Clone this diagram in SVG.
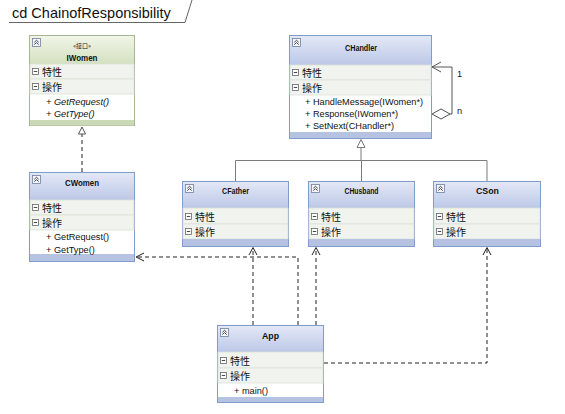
<svg xmlns="http://www.w3.org/2000/svg" width="565" height="414" viewBox="0 0 565 414">
<defs>
<linearGradient id="gb" x1="0" y1="0" x2="0" y2="1">
<stop offset="0" stop-color="#e3e8f6"/><stop offset="1" stop-color="#bcc8e7"/>
</linearGradient>
<linearGradient id="gg" x1="0" y1="0" x2="0" y2="1">
<stop offset="0" stop-color="#f1f5e8"/><stop offset="1" stop-color="#d3e0bf"/>
</linearGradient>
<g id="col">
<rect x="0.5" y="0.5" width="8" height="8" fill="#f4f6fb" stroke="#6f7f9f" stroke-width="0.8"/>
<path d="M2.3,4.3 L4.5,2.3 L6.7,4.3 M2.3,6.6 L4.5,4.6 L6.7,6.6" fill="none" stroke="#333" stroke-width="0.9"/>
</g>
<g id="mi">
<rect x="0.5" y="0.5" width="6" height="6" fill="#fff" stroke="#666" stroke-width="0.8"/>
<path d="M1.8,3.5 H5.2" stroke="#333" stroke-width="0.9"/>
</g>
</defs>
<style>
.bb{fill:#fff;stroke:#7f9ccb;stroke-width:1}
.bg{fill:#fff;stroke:#a5b792;stroke-width:1}
.row{fill:#f1f4ee;stroke:#dde2d6;stroke-width:0.8}
.sb{fill:#b5c2e2}
.sg{fill:#cbd9b6}
.t{font-family:"Liberation Sans",Arial,sans-serif;font-size:9.2px;fill:#111}
.ti{font-family:"Liberation Sans",Arial,sans-serif;font-size:9.5px;font-weight:bold;fill:#111}
.c{font-family:"Noto Sans CJK SC","Noto Sans",sans-serif;font-size:10px;fill:#111}
.dash{stroke:#222;stroke-width:1;stroke-dasharray:4 3;fill:none}
.gen{stroke:#7a7a7a;stroke-width:1;fill:none}
.arr{stroke:#222;stroke-width:1;fill:none}
</style>
<rect width="565" height="414" fill="#fff"/>

<g id="frame">
<text x="12" y="18" font-family="Liberation Sans,Arial,sans-serif" font-size="14.5" fill="#111">cd ChainofResponsibility</text>
<path d="M9,22.5 H185 L192,0" fill="none" stroke="#666" stroke-width="1"/>
</g>

<g id="connectors">
<path class="gen" d="M361,148 V160.5 M235.5,181 V160.5 H487 V181 M361.5,160.5 V181"/>
<path d="M361,139.5 L365,147.5 L357,147.5 Z" fill="#fff" stroke="#7a7a7a"/>
<path class="dash" d="M82,172 V134"/>
<path d="M82,127 L85.5,134 L78.5,134 Z" fill="#fff" stroke="#555"/>
<path class="gen" style="stroke:#555" d="M432,67 H452 V114 H450"/>
<path d="M432,114 L441,109 L450,114 L441,119 Z" fill="#fff" stroke="#555"/>
<path class="arr" style="stroke:#555" d="M441,62 L432,67 L441,72"/>
<text class="t" x="457" y="77">1</text>
<text class="t" x="457" y="114">n</text>
<path class="dash" d="M298,325 V257 H137"/>
<path class="arr" d="M144,253 L136,257 L144,261"/>
<path class="dash" d="M253,325 V248"/>
<path class="arr" d="M249,255 L253,247.5 L257,255"/>
<path class="dash" d="M316,325 V248"/>
<path class="arr" d="M312,255 L316,247.5 L320,255"/>
<path class="dash" d="M324,363 H487 V248"/>
<path class="arr" d="M483,255 L487,247.5 L491,255"/>
</g>

<g id="IWomen">
<rect class="bg" x="29.5" y="35.5" width="105" height="90"/>
<rect x="30" y="36" width="104" height="28" fill="url(#gg)"/>
<rect class="row" x="30" y="64" width="104" height="15"/>
<rect class="row" x="30" y="79" width="104" height="15"/>
<rect class="sg" x="30" y="120" width="104" height="5.5"/>
<use href="#col" x="32" y="38"/>
<text x="82" y="47.5" text-anchor="middle" style="font-size:6px;font-family:'Noto Sans CJK SC',sans-serif;fill:#111">«接口»</text>
<text class="ti" x="82" y="61" text-anchor="middle" textLength="31" lengthAdjust="spacingAndGlyphs">IWomen</text>
<use href="#mi" x="32" y="68"/>
<text class="c" x="42" y="76">特性</text>
<use href="#mi" x="32" y="83"/>
<text class="c" x="42" y="91">操作</text>
<text class="t" x="46" y="105" font-style="italic">+ GetRequest()</text>
<text class="t" x="46" y="117" font-style="italic">+ GetType()</text>
</g>

<g id="CHandler">
<rect class="bb" x="289.5" y="35.5" width="142" height="103"/>
<rect x="290" y="36" width="141" height="29" fill="url(#gb)"/>
<rect class="row" x="290" y="65" width="141" height="15"/>
<rect class="row" x="290" y="80" width="141" height="15"/>
<rect class="sb" x="290" y="132" width="141" height="6"/>
<use href="#col" x="292" y="38"/>
<text class="ti" x="361" y="51" text-anchor="middle" textLength="32" lengthAdjust="spacingAndGlyphs">CHandler</text>
<use href="#mi" x="292" y="69"/>
<text class="c" x="302" y="77">特性</text>
<use href="#mi" x="292" y="84"/>
<text class="c" x="302" y="92">操作</text>
<text class="t" x="305" y="105">+ HandleMessage(IWomen*)</text>
<text class="t" x="305" y="117">+ Response(IWomen*)</text>
<text class="t" x="305" y="129">+ SetNext(CHandler*)</text>
</g>

<g id="CWomen">
<rect class="bb" x="29.5" y="172.5" width="105" height="89"/>
<rect x="30" y="173" width="104" height="27" fill="url(#gb)"/>
<rect class="row" x="30" y="200" width="104" height="15"/>
<rect class="row" x="30" y="215" width="104" height="15"/>
<rect class="sb" x="30" y="254" width="104" height="7"/>
<use href="#col" x="32" y="175"/>
<text class="ti" x="82" y="186" text-anchor="middle" textLength="34" lengthAdjust="spacingAndGlyphs">CWomen</text>
<use href="#mi" x="32" y="204"/>
<text class="c" x="42" y="212">特性</text>
<use href="#mi" x="32" y="219"/>
<text class="c" x="42" y="227">操作</text>
<text class="t" x="46" y="240">+ GetRequest()</text>
<text class="t" x="46" y="253">+ GetType()</text>
</g>

<g id="CFather">
<rect class="bb" x="182.5" y="181.5" width="106" height="65"/>
<rect x="183" y="182" width="105" height="26" fill="url(#gb)"/>
<rect class="row" x="183" y="208" width="105" height="16"/>
<rect class="row" x="183" y="224" width="105" height="15"/>
<rect class="sb" x="183" y="239" width="105" height="7"/>
<use href="#col" x="185" y="184"/>
<text class="ti" x="235.5" y="194" text-anchor="middle" textLength="27" lengthAdjust="spacingAndGlyphs">CFather</text>
<use href="#mi" x="185" y="213"/>
<text class="c" x="195" y="221">特性</text>
<use href="#mi" x="185" y="228"/>
<text class="c" x="195" y="236">操作</text>
</g>

<g id="CHusband">
<rect class="bb" x="308.5" y="181.5" width="106" height="65"/>
<rect x="309" y="182" width="105" height="26" fill="url(#gb)"/>
<rect class="row" x="309" y="208" width="105" height="16"/>
<rect class="row" x="309" y="224" width="105" height="15"/>
<rect class="sb" x="309" y="239" width="105" height="7"/>
<use href="#col" x="311" y="184"/>
<text class="ti" x="361.5" y="194" text-anchor="middle" textLength="34" lengthAdjust="spacingAndGlyphs">CHusband</text>
<use href="#mi" x="311" y="213"/>
<text class="c" x="321" y="221">特性</text>
<use href="#mi" x="311" y="228"/>
<text class="c" x="321" y="236">操作</text>
</g>

<g id="CSon">
<rect class="bb" x="433.5" y="181.5" width="107" height="65"/>
<rect x="434" y="182" width="106" height="26" fill="url(#gb)"/>
<rect class="row" x="434" y="208" width="106" height="16"/>
<rect class="row" x="434" y="224" width="106" height="15"/>
<rect class="sb" x="434" y="239" width="106" height="7"/>
<use href="#col" x="436" y="184"/>
<text class="ti" x="487.5" y="194" text-anchor="middle" textLength="23" lengthAdjust="spacingAndGlyphs">CSon</text>
<use href="#mi" x="436" y="213"/>
<text class="c" x="446" y="221">特性</text>
<use href="#mi" x="436" y="228"/>
<text class="c" x="446" y="236">操作</text>
</g>

<g id="App">
<rect class="bb" x="217.5" y="325.5" width="106" height="77"/>
<rect x="218" y="326" width="105" height="26" fill="url(#gb)"/>
<rect class="row" x="218" y="352" width="105" height="16"/>
<rect class="row" x="218" y="368" width="105" height="15"/>
<rect class="sb" x="218" y="397" width="105" height="5"/>
<use href="#col" x="220" y="328"/>
<text class="ti" x="270.5" y="338.5" text-anchor="middle" textLength="17" lengthAdjust="spacingAndGlyphs">App</text>
<use href="#mi" x="220" y="357"/>
<text class="c" x="230" y="365">特性</text>
<use href="#mi" x="220" y="372"/>
<text class="c" x="230" y="380">操作</text>
<text class="t" x="234" y="394">+ main()</text>
</g>
</svg>
